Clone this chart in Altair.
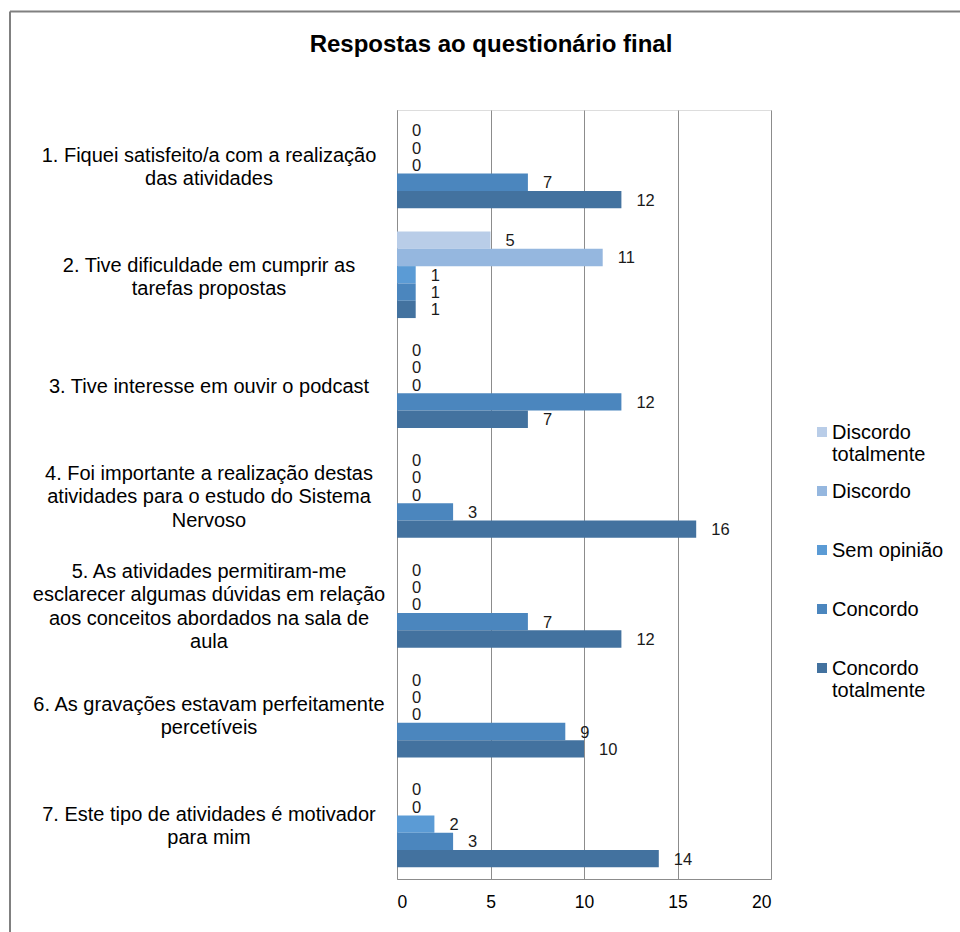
import altair as alt
import pandas as pd

FONT = "Liberation Sans"

TITLE = "Respostas ao questionário final"

# Questions (line breaks as they are laid out next to the axis)
categories = [
    "1. Fiquei satisfeito/a com a realização\ndas atividades",
    "2. Tive dificuldade em cumprir as\ntarefas propostas",
    "3. Tive interesse em ouvir o podcast",
    "4. Foi importante a realização destas\natividades para o estudo do Sistema\nNervoso",
    "5. As atividades permitiram-me\nesclarecer algumas dúvidas em relação\naos conceitos abordados na sala de\naula",
    "6. As gravações estavam perfeitamente\npercetíveis",
    "7.  Este tipo de atividades é motivador\npara mim",
]

series = ["Discordo totalmente", "Discordo", "Sem opinião", "Concordo", "Concordo totalmente"]
legend_lines = ["Discordo\ntotalmente", "Discordo", "Sem opinião", "Concordo", "Concordo\ntotalmente"]
colors = ["#b9cde8", "#95b7df", "#5b9bd5", "#4b86be", "#43729f"]

# Number of answers per question for each option
discordo_totalmente = [0, 5, 0, 0, 0, 0, 0]
discordo = [0, 11, 0, 0, 0, 0, 0]
sem_opiniao = [0, 1, 0, 0, 0, 0, 2]
concordo = [7, 1, 12, 3, 7, 9, 3]
concordo_totalmente = [12, 1, 7, 16, 12, 10, 14]

x_ticks = [0, 5, 10, 15, 20]

values_by_series = [discordo_totalmente, discordo, sem_opiniao, concordo, concordo_totalmente]
rows = []
for s, vals in zip(series, values_by_series):
    for q, v in zip(categories, vals):
        rows.append({"pergunta": q, "serie": s, "valor": v})
df = pd.DataFrame(rows)

# One row per text line of each question, with its line index relative to the block centre
label_rows = []
for q in categories:
    lines = q.split("\n")
    n = len(lines)
    for i, line in enumerate(lines):
        label_rows.append({"pergunta": q, "linha": line, "pos": i - (n - 1) / 2})
label_df = pd.DataFrame(label_rows)

legend_df = pd.DataFrame({"serie": series, "rotulo": legend_lines})
title_df = pd.DataFrame({"titulo": [TITLE]})
frame_df = pd.DataFrame({"k": [0]})

GRID = "#8c8c8c"
LINE_H = 23.5
WIDTH, HEIGHT = 374, 769
PAD_INNER = 0.212

# Half of a category band, used to centre the question text blocks on their bars
BAND = HEIGHT / len(categories) * (1 - PAD_INNER)
CENTRE = BAND / 2 + 2.5

y_scale = alt.Scale(domain=categories, paddingInner=PAD_INNER, paddingOuter=PAD_INNER / 2)

y_enc = alt.Y(
    "pergunta:N",
    sort=categories,
    scale=y_scale,
    axis=alt.Axis(title=None, ticks=False, labels=False, domainColor=GRID),
)
yoff_enc = alt.YOffset(
    "serie:N", sort=series,
    scale=alt.Scale(domain=series, paddingInner=0, paddingOuter=0),
)
x_enc = alt.X(
    "valor:Q",
    scale=alt.Scale(domain=[0, 20], nice=False),
    axis=alt.Axis(
        values=x_ticks,
        title=None,
        grid=True,
        gridColor=GRID,
        domainColor=GRID,
        ticks=False,
        labelFont=FONT,
        labelFontSize=17.5,
        labelPadding=14,
        labelColor="#000000",
    ),
)
color_enc = alt.Color("serie:N", scale=alt.Scale(domain=series, range=colors), legend=None)

bars = alt.Chart(df).mark_bar().encode(
    x=x_enc, y=y_enc, yOffset=yoff_enc, color=color_enc
)

value_labels = alt.Chart(df).mark_text(
    align="left", baseline="middle", dx=15, dy=1,
    font=FONT, fontSize=16.5, color="#1a1a1a",
).encode(x=x_enc, y=y_enc, yOffset=yoff_enc, text="valor:Q")

plot = alt.layer(bars, value_labels)

# Question texts, centred block-wise to the left of the axis
question_labels = alt.Chart(label_df).mark_text(
    align="center", baseline="middle",
    font=FONT, fontSize=20, color="#000000",
).encode(
    x=alt.value(-188),
    y=alt.Y("pergunta:N", sort=categories, scale=y_scale, axis=None),
    yOffset=alt.YOffset(
        "pos:Q",
        scale=alt.Scale(
            domain=[-1.5, 1.5],
            range=[CENTRE - 1.5 * LINE_H, CENTRE + 1.5 * LINE_H],
        ),
    ),
    text="linha:N",
)

# Legend on the right side
leg_y = alt.Y(
    "serie:N", sort=series,
    scale=alt.Scale(type="point", domain=series, range=[322, 558], padding=0),
    axis=None,
)
leg_squares = alt.Chart(legend_df).mark_square(size=100, opacity=1).encode(
    x=alt.value(425), y=leg_y, color=color_enc
)
leg_texts = alt.Chart(legend_df).mark_text(
    align="left", baseline="alphabetic", dy=7, lineBreak="\n",
    font=FONT, fontSize=20, lineHeight=22, color="#000000",
).encode(x=alt.value(435), y=leg_y, text="rotulo:N")
legend = alt.layer(leg_squares, leg_texts)

# Chart title above the plot
title = alt.Chart(title_df).mark_text(
    align="center", baseline="alphabetic",
    font=FONT, fontSize=24, fontWeight="bold", color="#000000",
).encode(x=alt.value(94), y=alt.value(-58), text="titulo:N")

# Outer chart border (top and left edges)
border_top = alt.Chart(frame_df).mark_rule(color="#808080", strokeWidth=2).encode(
    x=alt.value(-387), x2=alt.value(563), y=alt.value(-98.5)
)
border_left = alt.Chart(frame_df).mark_rule(color="#808080", strokeWidth=2).encode(
    x=alt.value(-387), y=alt.value(-98.5), y2=alt.value(822)
)

chart = alt.layer(
    plot, question_labels, legend, title, border_top, border_left
).resolve_scale(
    y="independent", yOffset="independent"
).properties(
    width=WIDTH,
    height=HEIGHT,
    padding={"left": 397, "top": 110, "right": 189, "bottom": 53},
    autosize=alt.AutoSizeParams(type="none"),
).configure_view(stroke=None).configure(background="white")

chart.save("out.html", embed_options={"renderer": "svg", "actions": False})
